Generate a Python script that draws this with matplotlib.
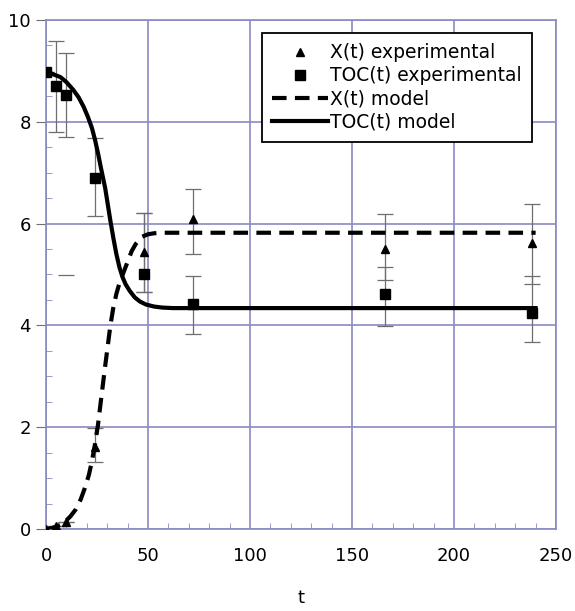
import matplotlib
matplotlib.use("Agg")
import matplotlib.pyplot as plt
from matplotlib.ticker import MultipleLocator

# Experimental data
t_exp_x = [0, 5, 10, 24, 48, 72, 166, 238]
x_exp = [0.0, 0.05, 0.13, 1.61, 5.45, 6.09, 5.50, 5.62]
x_err_lo = [0, 0, 0, 0.29, 0.79, 0.69, 0.61, 0.81]
x_err_hi = [0, 0, 0, 0.37, 0.75, 0.59, 0.69, 0.76]

t_exp_toc = [0, 5, 10, 24, 48, 72, 166, 238]
toc_exp = [8.97, 8.70, 8.53, 6.90, 5.00, 4.42, 4.62, 4.24]
toc_err_lo = [0, 0.90, 0.83, 0.75, 0.34, 0.59, 0.63, 0.57]
toc_err_hi = [0, 0.89, 0.82, 0.78, 1.20, 0.56, 0.53, 0.74]

# stray cap visible in the reference
stray_t = [10]
stray_y = [4.99]

# Model curves
t_model_x = [0, 3, 7, 9.5, 12, 14.5, 17, 19, 21, 22.5, 24, 25.5, 27, 29, 31.5, 33, 34.5, 36,
             38, 40, 42, 44, 47, 50, 53, 57, 62, 240]
x_model = [0.0, 0.02, 0.08, 0.15, 0.25, 0.38, 0.58, 0.8, 1.06, 1.33, 1.66, 2.05, 2.55, 3.2,
           3.98, 4.35, 4.62, 4.83, 5.04, 5.25, 5.46, 5.6, 5.74, 5.79, 5.81, 5.82, 5.82, 5.82]

t_model_toc = [0, 3, 7, 10, 13.5, 16, 18.5, 20.5, 22.5, 24, 25.5, 27, 29, 31.5, 33, 34.5,
               36, 37.5, 39, 41, 43.5, 46, 49, 53, 57, 62, 70, 240]
toc_model = [8.97, 8.94, 8.88, 8.78, 8.62, 8.48, 8.29, 8.1, 7.88, 7.65, 7.38, 7.08, 6.7,
             6.07, 5.72, 5.4, 5.14, 4.95, 4.81, 4.68, 4.55, 4.47, 4.41, 4.37, 4.35, 4.34,
             4.34, 4.34]

grid_col = '#8a8ac4'
err_col = '#6e6e6e'

fig = plt.figure(figsize=(5.75, 6.11), dpi=100)
ax = fig.add_axes([0.080, 0.1342, 0.887, 0.8331])

ax.errorbar(t_exp_x, x_exp, yerr=[x_err_lo, x_err_hi], fmt='none', ecolor=err_col,
            elinewidth=0.9, capsize=6, capthick=0.9, zorder=3)
ax.errorbar(t_exp_toc, toc_exp, yerr=[toc_err_lo, toc_err_hi], fmt='none', ecolor=err_col,
            elinewidth=0.9, capsize=6, capthick=0.9, zorder=3)
ax.plot(stray_t, stray_y, linestyle='none', marker='_', markersize=12, color=err_col,
        markeredgewidth=0.9, zorder=3)

ax.plot(t_exp_x, x_exp, linestyle='none', marker='^', markersize=6, color='black',
        label='X(t) experimental', zorder=5)
ax.plot(t_exp_toc, toc_exp, linestyle='none', marker='s', markersize=7, color='black',
        label='TOC(t) experimental', zorder=5)
ax.plot(t_model_x, x_model, color='black', linewidth=3, dashes=(3.5, 2),
        label='X(t) model', zorder=4, solid_joinstyle='round')
ax.plot(t_model_toc, toc_model, color='black', linewidth=3, label='TOC(t) model', zorder=4,
        solid_joinstyle='round')

ax.set_xlim(0, 250)
ax.set_ylim(0, 10)
ax.xaxis.set_major_locator(MultipleLocator(50))
ax.xaxis.set_minor_locator(MultipleLocator(10))
ax.yaxis.set_major_locator(MultipleLocator(2))
ax.yaxis.set_minor_locator(MultipleLocator(0.5))

ax.grid(True, which='major', color=grid_col, linewidth=1.2)
ax.set_axisbelow(True)
for s in ax.spines.values():
    s.set_color(grid_col)
    s.set_linewidth(1.2)

ax.tick_params(axis='x', which='major', length=0, pad=13, labelsize=13)
ax.tick_params(axis='x', which='minor', direction='in', length=4, color=grid_col)
ax.tick_params(axis='y', which='major', direction='out', length=7, pad=4, labelsize=13,
               color=err_col)
ax.tick_params(axis='y', which='minor', direction='in', length=4, color=grid_col)
ax.tick_params(top=False, right=False, which='both')

ax.set_xlabel('t', fontsize=13, labelpad=17)

leg = ax.legend(loc='upper right', bbox_to_anchor=(0.953, 0.9745), fontsize=13.5,
                frameon=True, fancybox=False, edgecolor='black', framealpha=1,
                handlelength=3.0, handletextpad=0.1, labelspacing=0.22,
                borderpad=0.55, borderaxespad=0)
leg.get_frame().set_linewidth(1.3)

fig.savefig('out.png', dpi=100, facecolor='white')
